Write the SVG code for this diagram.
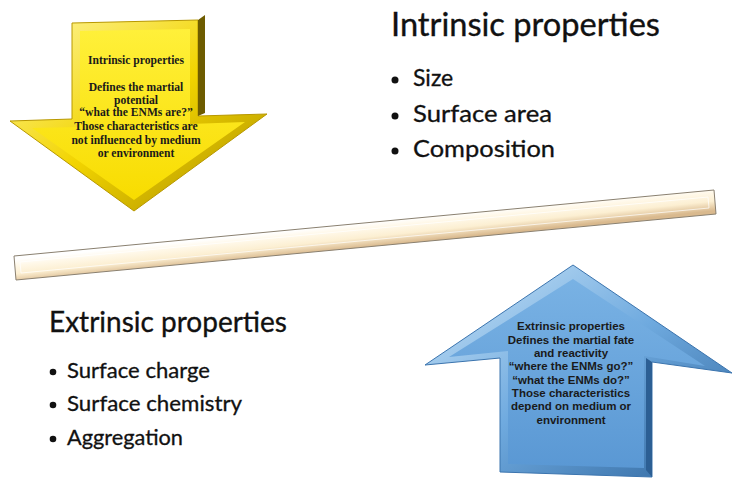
<svg xmlns="http://www.w3.org/2000/svg" width="735" height="488" viewBox="0 0 735 488">
<defs>
<style>
.title{font-family:Lato,"Open Sans","Liberation Sans",sans-serif;fill:#111;stroke:#111;stroke-width:0.35;}
.bul{font-family:Lato,"Open Sans","Liberation Sans",sans-serif;fill:#111;stroke:#111;stroke-width:0.3;}
.ytxt{font-family:"Liberation Serif","Times New Roman",serif;font-weight:bold;font-size:11.6px;fill:#1a1a1a;text-anchor:middle;}
.btxt{font-family:"Liberation Sans",Arial,sans-serif;font-weight:bold;font-size:11.5px;fill:#1a1a1a;text-anchor:middle;}
</style>
<linearGradient id="yEdge" x1="0" y1="0" x2="1" y2="1">
<stop offset="0" stop-color="#FFF6A0"/>
<stop offset="0.5" stop-color="#F2D400"/>
<stop offset="1" stop-color="#A88C00"/>
</linearGradient>
<linearGradient id="yFace" x1="0" y1="0" x2="0" y2="1">
<stop offset="0" stop-color="#FFF03A"/>
<stop offset="1" stop-color="#F8DC00"/>
</linearGradient>
<linearGradient id="bEdge" x1="0" y1="0" x2="1" y2="1">
<stop offset="0" stop-color="#CDE6F8"/>
<stop offset="0.5" stop-color="#6FAADF"/>
<stop offset="1" stop-color="#2F669E"/>
</linearGradient>
<linearGradient id="bFace" x1="0" y1="0" x2="0" y2="1">
<stop offset="0" stop-color="#79B2E4"/>
<stop offset="1" stop-color="#5A98D4"/>
</linearGradient>
<linearGradient id="bar" gradientUnits="userSpaceOnUse" x1="364" y1="223" x2="366.5" y2="247">
<stop offset="0" stop-color="#FFFFFF"/>
<stop offset="0.25" stop-color="#FFF8E8"/>
<stop offset="0.6" stop-color="#FCEFD2"/>
<stop offset="1" stop-color="#D9B98E"/>
</linearGradient>
</defs>

<g id="divider-bar">
<polygon points="14,256 714,190 716,214 16,280" fill="url(#bar)" stroke="#8a8070" stroke-width="1"/>
<polygon points="20,262 708,197 709,208 21,273" fill="none" stroke="#FFFFFF" stroke-width="1" opacity="0.7"/>
</g>

<g id="intrinsic-arrow">
<polygon points="72,23 198,20 198,116 267,114 134,211 10,121 72,119" fill="url(#yEdge)" stroke="#B89800" stroke-width="1"/>
<polygon points="198,20 205,15 205,113 198,116" fill="#6E5C00"/>
<polygon points="80,31 190,29 190,124 245,122 134,200 32,128 80,127" fill="url(#yFace)"/>
<text class="ytxt" x="136" y="64">Intrinsic properties</text>
<text class="ytxt" x="136" y="91">Defines the martial</text>
<text class="ytxt" x="136" y="103.5">potential</text>
<text class="ytxt" x="136" y="116">“what the ENMs are?”</text>
<text class="ytxt" x="136" y="130">Those characteristics are</text>
<text class="ytxt" x="136" y="143.5">not influenced by medium</text>
<text class="ytxt" x="136" y="157">or environment</text>
</g>

<g id="extrinsic-arrow">
<polygon points="573,265 732,373 652,362 652,477 500,472 500,358 425,365" fill="url(#bEdge)" stroke="#3B74AE" stroke-width="1"/>
<polygon points="573,279 705,366 644,356 644,468 508,464 508,351 449,357" fill="url(#bFace)"/>
<polygon points="646,358 652,362 652,477 646,470" fill="#2C5F94"/>
<text class="btxt" x="571" y="330">Extrinsic properties</text>
<text class="btxt" x="571" y="343.5">Defines the martial fate</text>
<text class="btxt" x="571" y="357">and reactivity</text>
<text class="btxt" x="571" y="370">“where the ENMs go?”</text>
<text class="btxt" x="571" y="383.5">“what the ENMs do?”</text>
<text class="btxt" x="571" y="397">Those characteristics</text>
<text class="btxt" x="571" y="410">depend on medium or</text>
<text class="btxt" x="571" y="423.5">environment</text>
</g>

<g id="intrinsic-list">
<text class="title" x="391" y="36" font-size="32" textLength="269" lengthAdjust="spacingAndGlyphs">Intrinsic properties</text>
<circle cx="395" cy="80" r="3.5" fill="#111"/>
<text class="bul" x="413" y="86" font-size="23">Size</text>
<circle cx="395" cy="116" r="3.5" fill="#111"/>
<text class="bul" x="413" y="122" font-size="23" textLength="139" lengthAdjust="spacingAndGlyphs">Surface area</text>
<circle cx="395" cy="151" r="3.5" fill="#111"/>
<text class="bul" x="413" y="157" font-size="23" textLength="142" lengthAdjust="spacingAndGlyphs">Composition</text>
</g>

<g id="extrinsic-list">
<text class="title" x="49" y="332" font-size="29" textLength="238" lengthAdjust="spacingAndGlyphs">Extrinsic properties</text>
<circle cx="53" cy="372" r="3.3" fill="#111"/>
<text class="bul" x="67" y="378" font-size="21" textLength="143" lengthAdjust="spacingAndGlyphs">Surface charge</text>
<circle cx="53" cy="405" r="3.3" fill="#111"/>
<text class="bul" x="67" y="411" font-size="21" textLength="175" lengthAdjust="spacingAndGlyphs">Surface chemistry</text>
<circle cx="53" cy="439" r="3.3" fill="#111"/>
<text class="bul" x="67" y="445" font-size="21" textLength="116" lengthAdjust="spacingAndGlyphs">Aggregation</text>
</g>
</svg>
